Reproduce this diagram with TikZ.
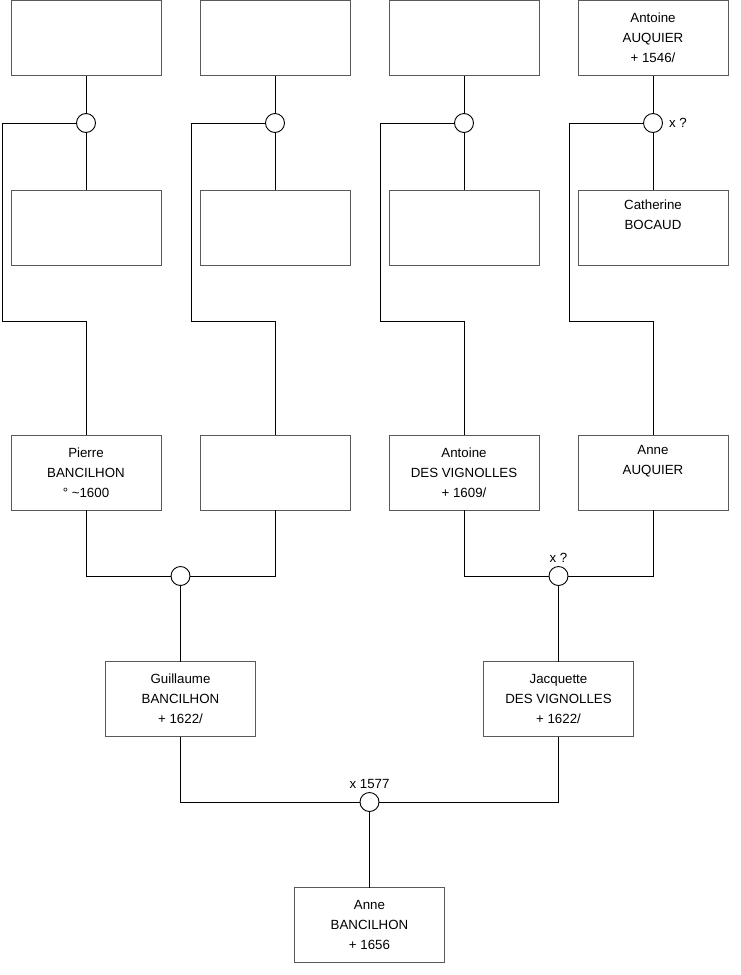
\documentclass[tikz,border=0pt]{standalone}
\usepackage{fontspec}
\setmainfont{Liberation Sans}
\usetikzlibrary{positioning}

\begin{document}
\begin{tikzpicture}[x=1pt,y=-1pt,
person/.style={draw=black!65,line width=0.9pt,fill=white,align=center,minimum width=150pt,minimum height=75pt,inner sep=0pt,outer sep=0pt,font=\fontsize{13.3}{20}\selectfont},
union/.style={draw,circle,line width=0.9pt,fill=white,minimum size=19pt,inner sep=0pt,outer sep=0pt},
every label/.style={font=\fontsize{13.3}{16}\selectfont},
link/.style={line width=0.9pt},
node distance=39pt]
\useasboundingbox (0,0) rectangle (740,975);
% grand-parents
\node[person] (top1) at (86,38) {};
\node[person,right=of top1] (top2) {};
\node[person,right=of top2] (top3) {};
\node[person,right=of top3] (top4) {Antoine\\AUQUIER\\+ 1546/};
\node[person] (wife1) at (86,227.5) {};
\node[person,right=of wife1] (wife2) {};
\node[person,right=of wife2] (wife3) {};
\node[person,right=of wife3] (wife4) {Catherine\\BOCAUD\\\strut};
\node[union] (c1) at (86,123) {};
\node[union] (c2) at (275,123) {};
\node[union] (c3) at (464,123) {};
\node[union,label={[label distance=3pt]right:x ?}] (c4) at (653,123) {};
% parents
\node[person] (par1) at (86,472.5) {Pierre\\BANCILHON\\° \textasciitilde1600};
\node[person,right=of par1] (par2) {};
\node[person,right=of par2] (par3) {Antoine\\DES VIGNOLLES\\+ 1609/};
\node[person,right=of par3] (par4) {Anne\\AUQUIER\\\strut};
\node[union] (m1) at (180.5,576) {};
\node[union,label=above:{x ?}] (m2) at (558.5,576) {};
\node[person] (guil) at (180.5,699) {Guillaume\\BANCILHON\\+ 1622/};
\node[person] (jacq) at (558.5,699) {Jacquette\\DES VIGNOLLES\\+ 1622/};
\node[union,label=above:{x 1577}] (m3) at (369.5,802) {};
\node[person] (anne) at (369.5,925) {Anne\\BANCILHON\\+ 1656};
\coordinate (k1) at (2,321);
\coordinate (k2) at (191,321);
\coordinate (k3) at (380,321);
\coordinate (k4) at (569,321);
% connectors
\draw[link] (top1) -- (c1) -- (wife1);
\draw[link] (top2) -- (c2) -- (wife2);
\draw[link] (top3) -- (c3) -- (wife3);
\draw[link] (top4) -- (c4) -- (wife4);
\draw[link] (c1) -| (k1) -| (par1);
\draw[link] (c2) -| (k2) -| (par2);
\draw[link] (c3) -| (k3) -| (par3);
\draw[link] (c4) -| (k4) -| (par4);
\draw[link] (par1) |- (m1) -| (par2);
\draw[link] (par3) |- (m2) -| (par4);
\draw[link] (m1) -- (guil);
\draw[link] (m2) -- (jacq);
\draw[link] (guil) |- (m3) -| (jacq);
\draw[link] (m3) -- (anne);
\end{tikzpicture}
\end{document}
